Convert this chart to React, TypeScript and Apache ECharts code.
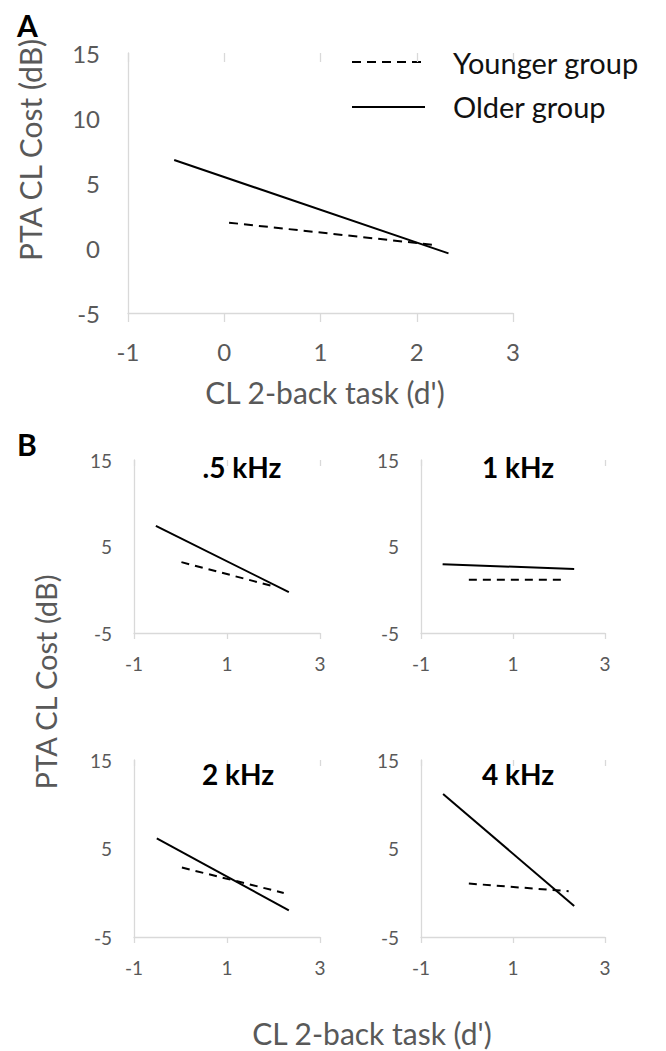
import React, { useEffect, useRef } from 'react';
import * as echarts from 'echarts';

const FONT = 'Lato, "Open Sans", sans-serif';
const GRAY = '#595959';
const AXIS = '#d9d9d9';

const seriesNames = ['Younger group', 'Older group'];
const panelTitles = ['.5 kHz', '1 kHz', '2 kHz', '4 kHz'];
const xName = "CL 2-back task (d')";
const yName = 'PTA CL Cost (dB)';

const aYounger = [[0.05, 1.95], [2.19, 0.23]];
const aOlder = [[-0.52, 6.77], [2.33, -0.41]];
const khz05Younger = [[0.02, 3.19], [2.0, 0.4]];
const khz05Older = [[-0.53, 7.38], [2.33, -0.27]];
const khz1Younger = [[0.04, 1.15], [2.1, 1.15]];
const khz1Older = [[-0.53, 2.96], [2.33, 2.39]];
const khz2Younger = [[0.03, 2.85], [2.22, -0.02]];
const khz2Older = [[-0.51, 6.14], [2.33, -1.98]];
const khz4Younger = [[0.04, 1.04], [2.21, 0.17]];
const khz4Older = [[-0.52, 11.15], [2.33, -1.49]];

const xMin = -1, xMax = 3;
const yMin = -5, yMax = 15;

const panels = [
  { younger: aYounger, older: aOlder, big: true },
  { younger: khz05Younger, older: khz05Older, big: false },
  { younger: khz1Younger, older: khz1Older, big: false },
  { younger: khz2Younger, older: khz2Older, big: false },
  { younger: khz4Younger, older: khz4Older, big: false },
];

const grids = [
  { left: 128, top: 53, width: 385, height: 260 },
  { left: 134, top: 460, width: 186, height: 173 },
  { left: 421, top: 460, width: 184, height: 173 },
  { left: 134, top: 760, width: 186, height: 177 },
  { left: 421, top: 760, width: 184, height: 177 },
];

const titlePos = [
  { x: 242, y: 453 },
  { x: 518, y: 453 },
  { x: 238, y: 760 },
  { x: 518, y: 760 },
];

const DASH_A = [9, 6];
const DASH_B = [8, 6];

export default function App() {
  const ref = useRef<HTMLDivElement>(null);
  useEffect(() => {
    if (!ref.current) return;
    const chart = echarts.init(ref.current, undefined, { renderer: 'svg' });
    const xAxis: any[] = [];
    const yAxis: any[] = [];
    const series: any[] = [];
    panels.forEach((p, i) => {
      const big = p.big;
      const labelStyle = { color: GRAY, fontFamily: FONT, fontSize: big ? 24 : 19 };
      xAxis.push({
        type: 'value', gridIndex: i, min: xMin, max: xMax, interval: big ? 1 : 2,
        axisLine: { show: true, onZero: false, lineStyle: { color: AXIS, width: 1.3 } },
        axisTick: { show: true, length: big ? 9 : 6, lineStyle: { color: AXIS, width: 1.3 } },
        axisLabel: { ...labelStyle, margin: big ? 26 : 21 },
        splitLine: { show: false },
      });
      xAxis.push({
        type: 'value', gridIndex: i, min: xMin, max: xMax, interval: big ? 1 : 2,
        axisLine: { show: false, onZero: false },
        axisTick: { show: true, inside: true, length: big ? 9 : 6, lineStyle: { color: AXIS, width: 1.3 } },
        axisLabel: { show: false },
        splitLine: { show: false },
      });
      yAxis.push({
        type: 'value', gridIndex: i, min: yMin, max: yMax, interval: big ? 5 : 10,
        axisLine: { show: true, onZero: false, lineStyle: { color: AXIS, width: 1.3 } },
        axisTick: { show: false },
        axisLabel: { ...labelStyle, margin: big ? 28 : 22 },
        splitLine: { show: false },
      });
      series.push({
        name: seriesNames[0], type: 'line', xAxisIndex: 2 * i, yAxisIndex: i,
        data: p.younger, symbol: 'none', silent: true,
        lineStyle: { color: '#000', width: 2, type: big ? DASH_A : DASH_B },
        itemStyle: { color: '#000' },
      });
      series.push({
        name: seriesNames[1], type: 'line', xAxisIndex: 2 * i, yAxisIndex: i,
        data: p.older, symbol: 'none', silent: true,
        lineStyle: { color: '#000', width: 2, type: 'solid' },
        itemStyle: { color: '#000' },
      });
    });

    const option: any = {
      animation: false,
      backgroundColor: '#fff',
      grid: grids.map((g) => ({ ...g, containLabel: false })),
      xAxis,
      yAxis,
      series,
      title: panelTitles.map((t, i) => ({
        text: t,
        left: titlePos[i].x,
        top: titlePos[i].y,
        textAlign: 'center',
        padding: 0,
        textStyle: { fontFamily: FONT, fontSize: 28, fontWeight: 'bold', color: '#000' },
      })),
      graphic: [
        { type: 'line', shape: { x1: 352, y1: 62, x2: 425, y2: 62 }, style: { stroke: '#000', lineWidth: 2, lineDash: DASH_A } },
        { type: 'line', shape: { x1: 352, y1: 107, x2: 425, y2: 107 }, style: { stroke: '#000', lineWidth: 2 } },
        { type: 'text', x: 453, y: 62, style: { text: seriesNames[0], fontFamily: FONT, fontSize: 29, fill: '#111', align: 'left', verticalAlign: 'middle' } },
        { type: 'text', x: 453, y: 106, style: { text: seriesNames[1], fontFamily: FONT, fontSize: 29, fill: '#111', align: 'left', verticalAlign: 'middle' } },
        { type: 'text', x: 17, y: 10, style: { text: 'A', fontFamily: FONT, fontSize: 30, fontWeight: 'bold', fill: '#000' } },
        { type: 'text', x: 17, y: 429, style: { text: 'B', fontFamily: FONT, fontSize: 30, fontWeight: 'bold', fill: '#000' } },
        { type: 'text', x: 30, y: 150, rotation: Math.PI / 2, style: { text: yName, fontFamily: FONT, fontSize: 30, fill: GRAY, align: 'center', verticalAlign: 'middle' } },
        { type: 'text', x: 325, y: 392, style: { text: xName, fontFamily: FONT, fontSize: 30, fill: GRAY, align: 'center', verticalAlign: 'middle' } },
        { type: 'text', x: 45, y: 682, rotation: Math.PI / 2, style: { text: yName, fontFamily: FONT, fontSize: 29, fill: GRAY, align: 'center', verticalAlign: 'middle' } },
        { type: 'text', x: 372, y: 1033, style: { text: xName, fontFamily: FONT, fontSize: 30, lineHeight: 30, fill: GRAY, align: 'center', verticalAlign: 'middle' } },
      ],
    };
    chart.setOption(option);
    return () => chart.dispose();
  }, []);
  return <div ref={ref} style={{ position: 'absolute', left: 0, top: 0, width: 666, height: 1051 }} />;
}
